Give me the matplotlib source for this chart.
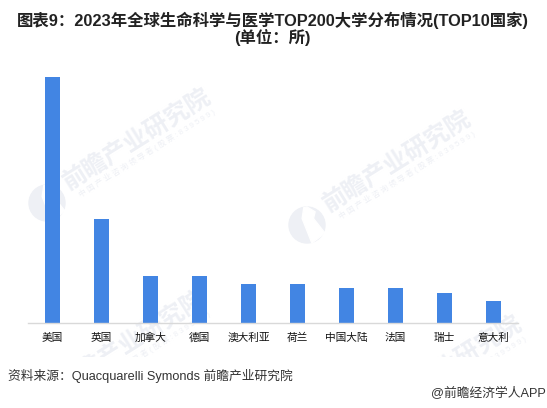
import matplotlib
matplotlib.use("Agg")
import matplotlib.pyplot as plt
from matplotlib.patches import Circle, Polygon

plt.rcParams['font.family'] = ['Liberation Sans', 'Noto Sans CJK SC', 'DejaVu Sans']

countries = ['美国', '英国', '加拿大', '德国', '澳大利亚', '荷兰', '中国大陆', '法国', '瑞士', '意大利']
counts = [57, 24, 11, 11, 9, 9, 8, 8, 7, 5]

W, H = 547, 408
fig = plt.figure(figsize=(W / 100, H / 100), dpi=100)
ax = fig.add_axes([28 / W, 1 - 323 / H, 490 / W, 246 / H], zorder=2)
ax.patch.set_alpha(0)

ax.bar(range(len(countries)), counts, width=0.306, color='#4285e3')
ax.set_xlim(-0.5, len(countries) - 0.5)
ax.set_ylim(0, 57)
ax.set_yticks([])
ax.set_xticks(range(len(countries)))
ax.set_xticklabels(countries, fontsize=7.7, color='#111111')
ax.tick_params(axis='x', length=0, pad=7)
for s in ['top', 'left', 'right']:
    ax.spines[s].set_visible(False)
ax.spines['bottom'].set_color('#d9d9d9')
ax.spines['bottom'].set_linewidth(1)

# watermark layer, in pixels from top left, cut off above the source line
wm = fig.add_axes([0, 1 - 357 / H, 1, 357 / H], zorder=0)
wm.set_xlim(0, W)
wm.set_ylim(357, 0)
wm.axis('off')
wm_color = '#eef0f5'
gap = [(-0.18, 0.96), (-0.27, 0.36), (0.27, -1), (1, -0.45), (0.36, 0.36), (0.45, 0.73), (0, 1)]


def watermark(cx, cy):
    wm.add_patch(Circle((cx, cy), 18, color=wm_color))
    wm.add_patch(Polygon([(cx + 18 * x, cy - 18 * y) for x, y in gap], color='white'))
    wm.text(cx + 90, cy - 64, '前瞻产业研究院', fontsize=17.5, fontweight='bold', color=wm_color,
            rotation=32, ha='center', va='center', rotation_mode='anchor', clip_on=True)
    wm.text(cx + 100, cy - 50, ' '.join('中国产业咨询领导者(股票:839599)'), fontsize=5.6, color=wm_color,
            rotation=32, ha='center', va='center', rotation_mode='anchor', clip_on=True)


for cx, cy in [(47, 203), (307, 225), (42, 405), (358, 430)]:
    watermark(cx, cy)

fig.text(272.5 / W, 1 - 20.5 / H, '图表9：2023年全球生命科学与医学TOP200大学分布情况(TOP10国家)', fontsize=11.8,
         fontweight='bold', color='#222222', ha='center', va='center')
fig.text(272.5 / W, 1 - 37.5 / H, '(单位：所)', fontsize=11.8, fontweight='bold', color='#222222', ha='center', va='center')
fig.text(7.5 / W, 1 - 375.5 / H, '资料来源：Quacquarelli Symonds 前瞻产业研究院', fontsize=9.2, color='#333333', va='center')
fig.text(546 / W, 1 - 394 / H, '@前瞻经济学人APP', fontsize=9.2, color='#333333', ha='right', va='center')

fig.savefig('out.png', dpi=100)
